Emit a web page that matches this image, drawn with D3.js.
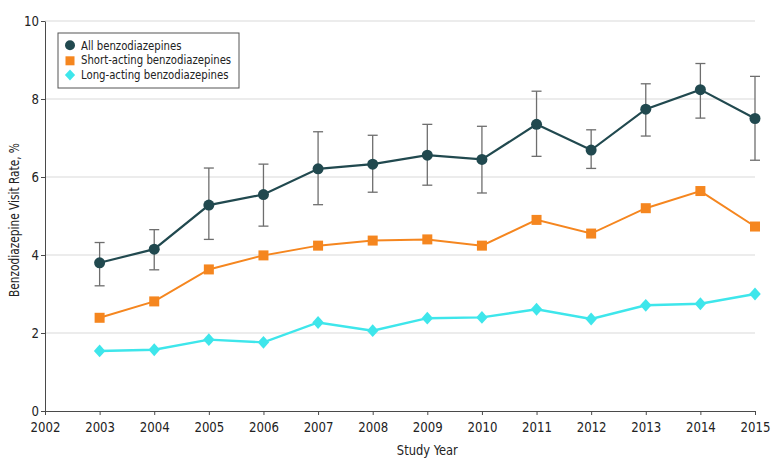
<!DOCTYPE html>
<html>
<head>
<meta charset="utf-8">
<script src="https://cdn.jsdelivr.net/npm/d3@7"></script>
<style>
  body { margin: 0; background: #fff; }
  text { font-family: "DejaVu Sans Condensed", "DejaVu Sans", sans-serif; fill: #222; }
</style>
</head>
<body>
<div id="chart"></div>
<script>
const years = [2003, 2004, 2005, 2006, 2007, 2008, 2009, 2010, 2011, 2012, 2013, 2014, 2015];
const allBenzo = [3.80, 4.15, 5.28, 5.55, 6.21, 6.33, 6.56, 6.45, 7.35, 6.69, 7.74, 8.24, 7.50];
const allLower = [3.21, 3.62, 4.40, 4.74, 5.29, 5.61, 5.79, 5.59, 6.53, 6.22, 7.05, 7.51, 6.43];
const allUpper = [4.32, 4.65, 6.23, 6.33, 7.16, 7.07, 7.35, 7.30, 8.20, 7.21, 8.39, 8.91, 8.58];
const shortActing = [2.39, 2.81, 3.63, 3.99, 4.24, 4.37, 4.40, 4.24, 4.90, 4.55, 5.20, 5.64, 4.73];
const longActing = [1.54, 1.57, 1.83, 1.76, 2.27, 2.06, 2.38, 2.40, 2.61, 2.36, 2.71, 2.75, 3.00];
const xTicks = [2002, 2003, 2004, 2005, 2006, 2007, 2008, 2009, 2010, 2011, 2012, 2013, 2014, 2015];
const yTicks = [0, 2, 4, 6, 8, 10];
const labels = ['All benzodiazepines', 'Short-acting benzodiazepines', 'Long-acting benzodiazepines'];

const w = 780, h = 472;
const margin = { top: 21, right: 25, bottom: 61, left: 45 };

const svg = d3.select('#chart').append('svg')
    .attr('width', w)
    .attr('height', h);

// the original font is narrower than anything installed, so squeeze text a bit
function squeeze(sel, factor) {
    sel.each(function () {
        const len = this.getComputedTextLength();
        d3.select(this).attr('textLength', len * factor).attr('lengthAdjust', 'spacingAndGlyphs');
    });
}

const x = d3.scaleLinear().domain([2002, 2015]).range([margin.left, w - margin.right]);
const y = d3.scaleLinear().domain([0, 10]).range([h - margin.bottom, margin.top]);

// gridlines
svg.append('g')
    .selectAll('line')
    .data(yTicks.filter(d => d > 0))
    .enter().append('line')
    .attr('x1', x(2002)).attr('x2', x(2015))
    .attr('y1', d => y(d)).attr('y2', d => y(d))
    .attr('stroke', '#d9d9d9').attr('stroke-width', 1);

// axes
const xAxis = svg.append('g')
    .attr('transform', `translate(0, ${y(0)})`)
    .call(d3.axisBottom(x).tickValues(xTicks).tickFormat(d3.format('d')).tickSize(4).tickSizeOuter(0));
const yAxis = svg.append('g')
    .attr('transform', `translate(${x(2002)}, 0)`)
    .call(d3.axisLeft(y).tickValues(yTicks).tickSize(4).tickSizeOuter(0));

[xAxis, yAxis].forEach(a => {
    a.select('.domain').attr('stroke', '#4a4a4a');
    a.selectAll('.tick line').attr('stroke', '#4a4a4a');
    a.selectAll('.tick text').attr('font-size', 14.5).attr('fill', '#222')
        .style('font-family', '"DejaVu Sans Condensed", "DejaVu Sans", sans-serif');
    squeeze(a.selectAll('.tick text'), 0.9);
});
xAxis.selectAll('.tick text').attr('dy', '0.95em');
yAxis.selectAll('.tick text').attr('x', -6);

const xTitle = svg.append('text')
    .attr('x', x(2009))
    .attr('y', 455)
    .attr('text-anchor', 'middle')
    .attr('font-size', 14.5)
    .text('Study Year');
squeeze(xTitle, 0.88);

const yTitle = svg.append('text')
    .attr('transform', `translate(19, 220) rotate(-90)`)
    .attr('text-anchor', 'middle')
    .attr('font-size', 14)
    .text('Benzodiazepine Visit Rate, %');
squeeze(yTitle, 0.84);

const colors = { all: '#21494f', short: '#f5861f', long: '#3ee6eb' };

const line = vals => d3.line()
    .x((d, i) => x(years[i]))
    .y(d => y(d))(vals);

const diamond = d3.symbol().type(d3.symbolSquare).size(66);

// long-acting
svg.append('path').attr('d', line(longActing))
    .attr('fill', 'none').attr('stroke', colors.long).attr('stroke-width', 2.4);
svg.append('g').selectAll('path')
    .data(longActing).enter().append('path')
    .attr('d', diamond)
    .attr('transform', (d, i) => `translate(${x(years[i])}, ${y(d)}) scale(1, 1.12) rotate(45)`)
    .attr('fill', colors.long);

// short-acting
svg.append('path').attr('d', line(shortActing))
    .attr('fill', 'none').attr('stroke', colors.short).attr('stroke-width', 2);
svg.append('g').selectAll('rect')
    .data(shortActing).enter().append('rect')
    .attr('x', (d, i) => x(years[i]) - 5)
    .attr('y', d => y(d) - 5)
    .attr('width', 10).attr('height', 10)
    .attr('fill', colors.short);

// error bars for all
const eb = svg.append('g').attr('stroke', '#6e6e6e').attr('stroke-width', 1.3);
years.forEach((yr, i) => {
    const cx = x(yr);
    eb.append('line').attr('x1', cx).attr('x2', cx).attr('y1', y(allLower[i])).attr('y2', y(allUpper[i]));
    eb.append('line').attr('x1', cx - 5).attr('x2', cx + 5).attr('y1', y(allLower[i])).attr('y2', y(allLower[i]));
    eb.append('line').attr('x1', cx - 5).attr('x2', cx + 5).attr('y1', y(allUpper[i])).attr('y2', y(allUpper[i]));
});

// all benzodiazepines
svg.append('path').attr('d', line(allBenzo))
    .attr('fill', 'none').attr('stroke', colors.all).attr('stroke-width', 2.2);
svg.append('g').selectAll('circle')
    .data(allBenzo).enter().append('circle')
    .attr('cx', (d, i) => x(years[i]))
    .attr('cy', d => y(d))
    .attr('r', 5.5)
    .attr('fill', colors.all);

// Legend
const legend = svg.append('g').attr('transform', 'translate(58, 33)');
legend.append('rect')
    .attr('width', 181).attr('height', 55)
    .attr('fill', 'white').attr('stroke', '#555').attr('stroke-width', 1);

legend.append('circle').attr('cx', 12).attr('cy', 12.3).attr('r', 5).attr('fill', colors.all);
legend.append('rect').attr('x', 7.5).attr('y', 23.3).attr('width', 9).attr('height', 9).attr('fill', colors.short);
legend.append('path')
    .attr('d', d3.symbol().type(d3.symbolSquare).size(52))
    .attr('transform', 'translate(12, 42) scale(1, 1.1) rotate(45)')
    .attr('fill', colors.long);

const legendText = legend.selectAll('text.lbl')
    .data(labels).enter().append('text')
    .attr('class', 'lbl')
    .attr('x', 23)
    .attr('y', (d, i) => 16.5 + i * 14.7)
    .attr('font-size', 12.5)
    .text(d => d);
squeeze(legendText, 0.9);
</script>
</body>
</html>
